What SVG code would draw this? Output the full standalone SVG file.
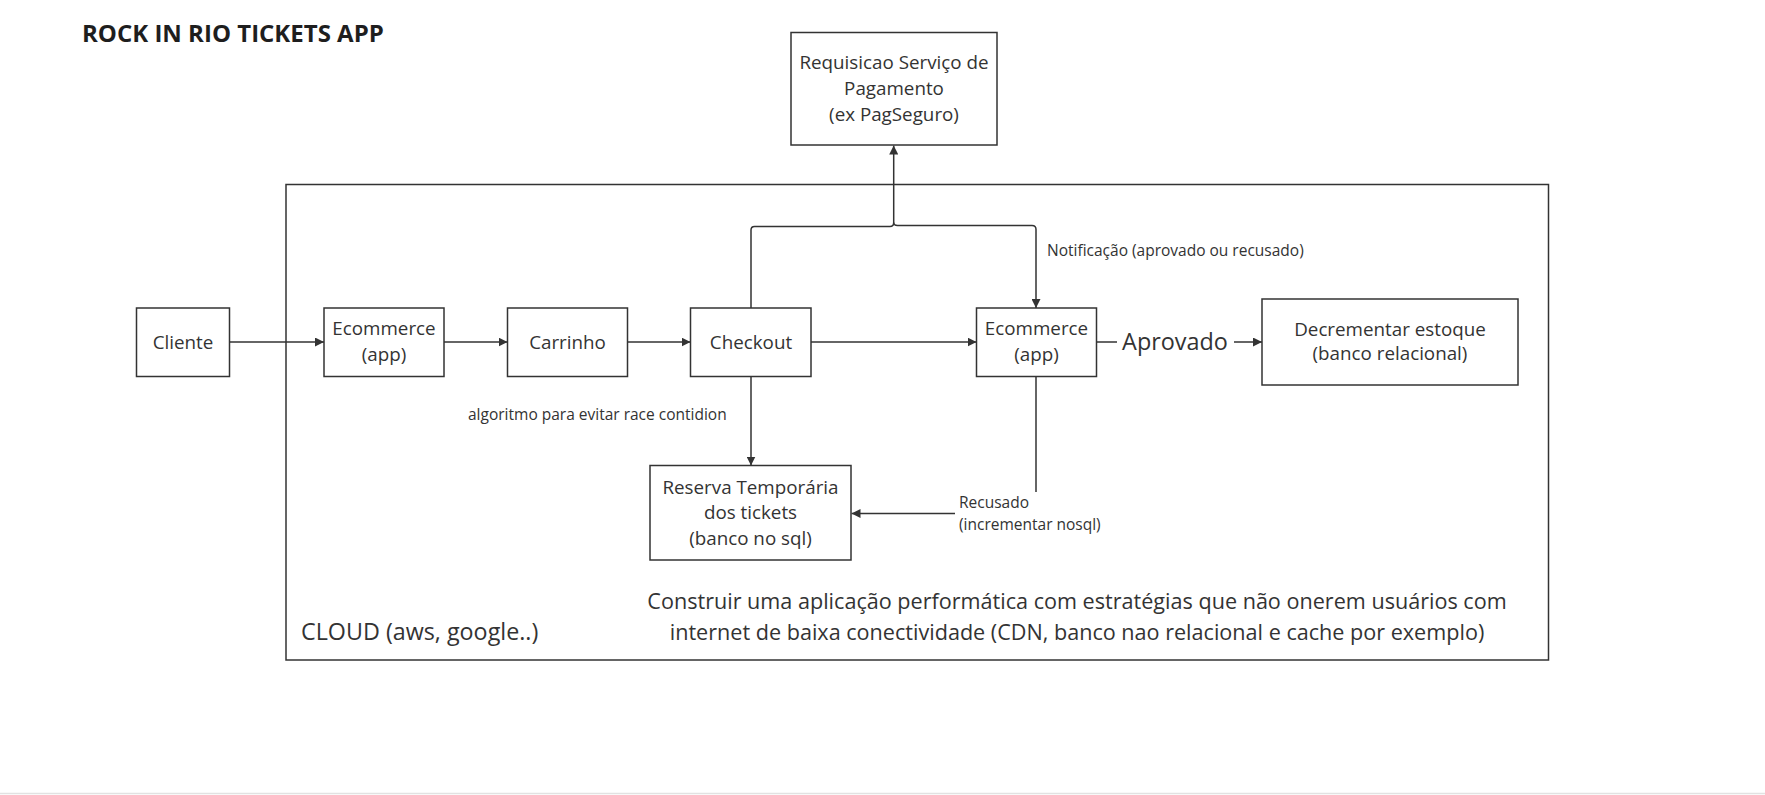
<svg xmlns="http://www.w3.org/2000/svg" width="1765" height="795" viewBox="0 0 1765 795">
<style>
  .box { fill: #ffffff; stroke: #333333; stroke-width: 1.5; }
  .frame { fill: none; stroke: #333333; stroke-width: 1.5; }
  .t { font-family: "Open Sans", "Noto Sans", "Liberation Sans", sans-serif; fill: #333333; }
  .n { font-size: 18.8px; text-anchor: middle; }
  .lbl { font-size: 15.5px; }
  .big { font-size: 21.6px; }
  .edge { fill: none; stroke: #333333; stroke-width: 1.5; }
</style>
<defs>
  <marker id="arr" viewBox="0 0 10 10" refX="10" refY="5" markerWidth="9" markerHeight="9" markerUnits="userSpaceOnUse" orient="auto">
    <path d="M0,0 L10,5 L0,10 z" fill="#333333"/>
  </marker>
</defs>
<rect width="1765" height="795" fill="#ffffff"/>
<line x1="0" y1="793.5" x2="1765" y2="793.5" stroke="#e2e2e2" stroke-width="1.5"/>

<text class="t" x="82" y="42.3" font-size="24" font-weight="bold" style="fill:#1e1e1e">ROCK IN RIO TICKETS APP</text>

<g id="cloud">
  <rect class="frame" x="286" y="184.5" width="1262.5" height="475.5"/>
  <text class="t" x="301" y="639.5" font-size="23.3">CLOUD (aws, google..)</text>
  <text class="t big" x="1077" y="609" text-anchor="middle">Construir uma aplicação performática com estratégias que não onerem usuários com</text>
  <text class="t big" x="1077" y="639.5" text-anchor="middle">internet de baixa conectividade (CDN, banco nao relacional e cache por exemplo)</text>
</g>

<g id="connectors">
  <line class="edge" x1="230" y1="342" x2="324" y2="342" marker-end="url(#arr)"/>
  <line class="edge" x1="444" y1="342" x2="507.5" y2="342" marker-end="url(#arr)"/>
  <line class="edge" x1="627.5" y1="342" x2="690.5" y2="342" marker-end="url(#arr)"/>
  <line class="edge" x1="811" y1="342" x2="976.5" y2="342" marker-end="url(#arr)"/>
  <path class="edge" d="M751,308 V230 Q751,226.5 754.5,226.5 H890 Q893.7,226.5 893.7,222.5 V145.5" marker-end="url(#arr)"/>
  <path class="edge" d="M893.7,222.5 Q893.7,225.5 897.5,225.5 H1032 Q1036,225.5 1036,229.5 V308" marker-end="url(#arr)"/>
  <text class="t lbl" x="1047" y="255.5">Notificação (aprovado ou recusado)</text>
  <line class="edge" x1="751" y1="377" x2="751" y2="465.5" marker-end="url(#arr)"/>
  <text class="t lbl" x="468" y="420">algoritmo para evitar race contidion</text>
  <line class="edge" x1="1036" y1="377" x2="1036" y2="492"/>
  <line class="edge" x1="955" y1="513.5" x2="851.5" y2="513.5" marker-end="url(#arr)"/>
  <text class="t lbl" x="959" y="507.5">Recusado</text>
  <text class="t lbl" x="959" y="529.5">(incrementar nosql)</text>
  <line class="edge" x1="1096.5" y1="342" x2="1117" y2="342"/>
  <text class="t" x="1175" y="349.5" font-size="23.4" text-anchor="middle">Aprovado</text>
  <line class="edge" x1="1234" y1="342" x2="1262" y2="342" marker-end="url(#arr)"/>
</g>

<g id="payment">
  <rect class="box" x="791" y="32.5" width="206" height="112.5"/>
  <text class="t n" x="894" y="69">Requisicao Serviço de</text>
  <text class="t n" x="894" y="95">Pagamento</text>
  <text class="t n" x="894" y="121">(ex PagSeguro)</text>
</g>
<g id="cliente">
  <rect class="box" x="136.5" y="308" width="93" height="68.5"/>
  <text class="t n" x="183" y="348.5">Cliente</text>
</g>
<g id="ecommerce1">
  <rect class="box" x="324" y="308" width="120" height="68.5"/>
  <text class="t n" x="384" y="335.3">Ecommerce</text>
  <text class="t n" x="384" y="360.5">(app)</text>
</g>
<g id="carrinho">
  <rect class="box" x="507.5" y="308" width="120" height="68.5"/>
  <text class="t n" x="567.5" y="348.5">Carrinho</text>
</g>
<g id="checkout">
  <rect class="box" x="690.5" y="308" width="120.5" height="68.5"/>
  <text class="t n" x="751" y="348.5">Checkout</text>
</g>
<g id="ecommerce2">
  <rect class="box" x="976.5" y="308" width="120" height="68.5"/>
  <text class="t n" x="1036.5" y="335.3">Ecommerce</text>
  <text class="t n" x="1036.5" y="360.5">(app)</text>
</g>
<g id="decrementar">
  <rect class="box" x="1262" y="299" width="256" height="86"/>
  <text class="t n" x="1390" y="335.8">Decrementar estoque</text>
  <text class="t n" x="1390" y="360.3">(banco relacional)</text>
</g>
<g id="reserva">
  <rect class="box" x="650" y="465.5" width="201" height="94.5"/>
  <text class="t n" x="750.5" y="493.5">Reserva Temporária</text>
  <text class="t n" x="750.5" y="519.3">dos tickets</text>
  <text class="t n" x="750.5" y="545">(banco no sql)</text>
</g>
</svg>
